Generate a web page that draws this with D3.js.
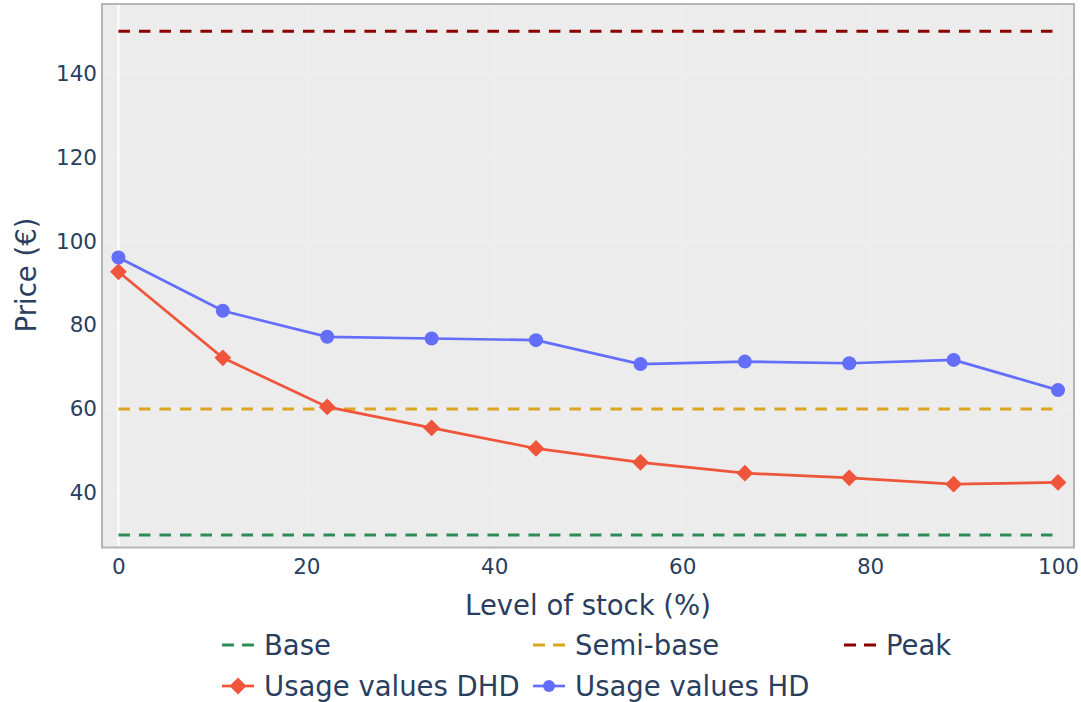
<!DOCTYPE html>
<html>
<head>
<meta charset="utf-8">
<script src="https://cdn.jsdelivr.net/npm/d3@7"></script>
<style>
  body { margin: 0; background: #fff; }
  svg text { font-family: "DejaVu Sans", Verdana, sans-serif; fill: #2a3f5f; }
</style>
</head>
<body>
<div class="chart"></div>
<script>
// level of stock (%) for each point
const stockLevels = [0, 11.11, 22.22, 33.33, 44.44, 55.56, 66.67, 77.78, 88.89, 100];
const usageDHD = [92.7, 72.2, 60.5, 55.5, 50.6, 47.3, 44.7, 43.6, 42.1, 42.5];
const usageHD = [96.1, 83.4, 77.2, 76.8, 76.4, 70.7, 71.3, 70.9, 71.7, 64.5];
// reference price levels
const refNames = ['Base', 'Semi-base', 'Peak'];
const refValues = [30, 60, 150];
const refColors = ['#2e8b57', '#daa520', '#8b0000'];
const xTicks = [0, 20, 40, 60, 80, 100];
const yTicks = [40, 60, 80, 100, 120, 140];

const width = 1081, height = 702;
const plot = { left: 102, right: 1074, top: 4, bottom: 547.5 };

const svg = d3.select('.chart').append('svg').attr('width', width).attr('height', height);

const x = d3.scaleLinear().domain([-1.75, 101.7]).range([plot.left, plot.right]);
const y = d3.scaleLinear().domain([27, 156.5]).range([plot.bottom, plot.top]);

// plot background
svg.append('rect')
	.attr('x', plot.left).attr('y', plot.top)
	.attr('width', plot.right - plot.left).attr('height', plot.bottom - plot.top)
	.attr('fill', '#ececec');

// grid
svg.append('g').selectAll('line').data(yTicks).enter().append('line')
	.attr('x1', plot.left).attr('x2', plot.right)
	.attr('y1', d => y(d)).attr('y2', d => y(d))
	.attr('stroke', '#f1f1f1').attr('stroke-width', 1);
svg.append('g').selectAll('line').data(xTicks.filter(d => d !== 0)).enter().append('line')
	.attr('y1', plot.top).attr('y2', plot.bottom)
	.attr('x1', d => x(d)).attr('x2', d => x(d))
	.attr('stroke', '#f1f1f1').attr('stroke-width', 1);
// zero line
svg.append('line')
	.attr('x1', x(0)).attr('x2', x(0)).attr('y1', plot.top).attr('y2', plot.bottom)
	.attr('stroke', '#fff').attr('stroke-width', 2);

// border
svg.append('rect')
	.attr('x', plot.left).attr('y', plot.top)
	.attr('width', plot.right - plot.left).attr('height', plot.bottom - plot.top)
	.attr('fill', 'none').attr('stroke', '#b4b4b4').attr('stroke-width', 2);

// axes tick labels
const xAxis = d3.axisBottom(x).tickValues(xTicks).tickSize(0).tickPadding(9);
const gx = svg.append('g').attr('transform', `translate(0,${plot.bottom + 2})`).call(xAxis);
gx.select('.domain').remove();
gx.selectAll('text').style('font-size', '21.5px').style('fill', '#2a3f5f').attr('font-family', 'DejaVu Sans');

const yAxis = d3.axisLeft(y).tickValues(yTicks).tickSize(0).tickPadding(5);
const gy = svg.append('g').attr('transform', `translate(${plot.left},0)`).call(yAxis);
gy.select('.domain').remove();
gy.selectAll('text').style('font-size', '21.5px').style('fill', '#2a3f5f').attr('font-family', 'DejaVu Sans');

// axis titles
svg.append('text')
	.attr('x', (plot.left + plot.right) / 2).attr('y', 615)
	.attr('text-anchor', 'middle')
	.style('font-size', '27.5px')
	.text('Level of stock (%)');
svg.append('text')
	.attr('transform', `translate(36,275) rotate(-90)`)
	.attr('text-anchor', 'middle')
	.style('font-size', '27.5px')
	.text('Price (€)');

// reference lines
const dash = '11.5,9';
const refs = svg.append('g');
refValues.forEach((v, i) => {
	refs.append('line')
		.attr('x1', x(0)).attr('x2', x(100))
		.attr('y1', y(v)).attr('y2', y(v))
		.attr('stroke', refColors[i]).attr('stroke-width', 3)
		.attr('stroke-dasharray', dash);
});

const line = d3.line().x((d, i) => x(stockLevels[i])).y(d => y(d));
const diamond = d3.symbol().type(d3.symbolDiamond2).size(180);

// DHD series
svg.append('path').datum(usageDHD)
	.attr('d', line).attr('fill', 'none').attr('stroke', '#ef553b').attr('stroke-width', 2.7);
svg.append('g').selectAll('path').data(usageDHD).enter().append('path')
	.attr('d', diamond)
	.attr('transform', (d, i) => `translate(${x(stockLevels[i])},${y(d)})`)
	.attr('fill', '#ef553b');

// HD series
svg.append('path').datum(usageHD)
	.attr('d', line).attr('fill', 'none').attr('stroke', '#636efa').attr('stroke-width', 2.7);
svg.append('g').selectAll('circle').data(usageHD).enter().append('circle')
	.attr('cx', (d, i) => x(stockLevels[i])).attr('cy', d => y(d))
	.attr('r', 7).attr('fill', '#636efa');

// legend
const colX = [218, 529, 840];
const rowY = [645, 686];
const legendItems = [
	{ name: refNames[0], color: refColors[0], type: 'dash' },
	{ name: refNames[1], color: refColors[1], type: 'dash' },
	{ name: refNames[2], color: refColors[2], type: 'dash' },
	{ name: 'Usage values DHD', color: '#ef553b', type: 'diamond' },
	{ name: 'Usage values HD', color: '#636efa', type: 'circle' },
];
const legend = svg.append('g');
legendItems.forEach((d, i) => {
	const lx = colX[i % 3], ly = rowY[Math.floor(i / 3)];
	const g = legend.append('g').attr('transform', `translate(${lx},${ly})`);
	g.append('line').attr('x1', 4).attr('x2', 36).attr('y1', 0).attr('y2', 0)
		.attr('stroke', d.color).attr('stroke-width', d.type === 'dash' ? 3 : 2.7)
		.attr('stroke-dasharray', d.type === 'dash' ? '12,8' : null);
	if (d.type === 'diamond') {
		g.append('path').attr('d', diamond).attr('transform', 'translate(20,0)').attr('fill', d.color);
	} else if (d.type === 'circle') {
		g.append('circle').attr('cx', 20).attr('cy', 0).attr('r', 6).attr('fill', d.color);
	}
	g.append('text').attr('x', 46).attr('y', 0).attr('dy', '0.35em')
		.style('font-size', '27.5px').text(d.name);
});
</script>
</body>
</html>
